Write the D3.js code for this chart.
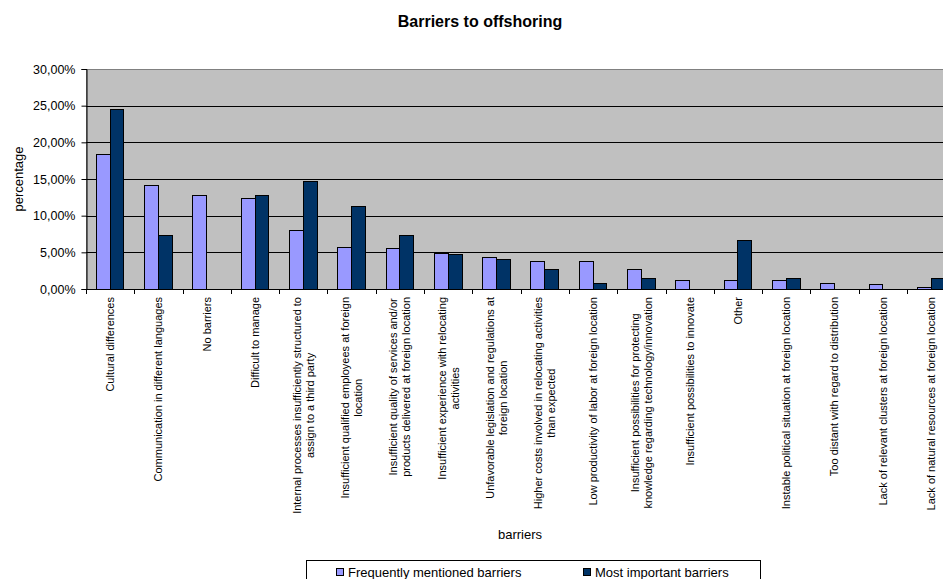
<!DOCTYPE html>
<html>
<head>
<meta charset="utf-8">
<script src="https://cdn.jsdelivr.net/npm/d3@7"></script>
<style>
  html, body { margin: 0; padding: 0; background: #fff; }
  svg { display: block; font-family: "Liberation Sans", Arial, sans-serif; }
</style>
</head>
<body>
<svg id="chart" width="943" height="579"></svg>
<script>
// Survey results: share of respondents naming each barrier
const categories = [
  "Cultural differences",
  "Communication in different languages",
  "No barriers",
  "Difficult to manage",
  "Internal processes insufficiently structured to\nassign to a third party",
  "Insufficient qualified employees at foreign\nlocation",
  "Insufficient quality of services and/or\nproducts delivered at foreign location",
  "Insufficient experience with relocating\nactivities",
  "Unfavorable legislation and regulations at\nforeign location",
  "Higher costs involved in relocating activities\nthan expected",
  "Low productivity of labor at foreign location",
  "Insufficient possibilities for protecting\nknowledge regarding technology/innovation",
  "Insufficient possibilities to innovate",
  "Other",
  "Instable political situation at foreign location",
  "Too distant with regard to distribution",
  "Lack of relevant clusters at foreign location",
  "Lack of natural resources at foreign location"
];
const seriesNames = ["Frequently mentioned barriers", "Most important barriers"];
const frequentlyMentioned = [0.183, 0.141, 0.127, 0.124, 0.080, 0.057, 0.055, 0.048, 0.043, 0.038, 0.037, 0.027, 0.012, 0.012, 0.012, 0.008, 0.006, 0.002];
const mostImportant      = [0.245, 0.073, 0.000, 0.127, 0.146, 0.113, 0.073, 0.047, 0.040, 0.027, 0.007, 0.014, 0.000, 0.066, 0.014, 0.000, 0.000, 0.014];
const yTicks = [0, 0.05, 0.10, 0.15, 0.20, 0.25, 0.30];
const seriesColors = ["#9999FF", "#003366"];

const svg = d3.select("#chart");
const plot = { left: 86, top: 69, bottom: 289, right: 955.3 };

const pct = d3.formatLocale({ decimal: ",", thousands: ".", grouping: [3], currency: ["", "€"], percent: "%" }).format(".2%");

const x = d3.scaleBand().domain(categories).range([plot.left, plot.right]).paddingInner(0).paddingOuter(0);
const x1 = d3.scaleBand().domain(seriesNames).range([0, x.bandwidth()]).paddingInner(0).paddingOuter(0.75);
const y = d3.scaleLinear().domain([0, 0.30]).range([plot.bottom, plot.top]);

// plot area background
svg.append("rect")
  .attr("x", plot.left).attr("y", plot.top)
  .attr("width", plot.right - plot.left).attr("height", plot.bottom - plot.top)
  .attr("fill", "#C0C0C0").attr("stroke", "#808080").attr("stroke-width", 1)
  .attr("shape-rendering", "crispEdges");

// horizontal gridlines
svg.append("g").selectAll("line").data(yTicks.filter(d => d > 0 && d < 0.30)).join("line")
  .attr("x1", plot.left).attr("x2", plot.right)
  .attr("y1", d => Math.round(y(d)) + 0.5).attr("y2", d => Math.round(y(d)) + 0.5)
  .attr("stroke", "#000").attr("stroke-width", 1);

// bars
const rows = categories.map((c, i) => ({ cat: c, values: [frequentlyMentioned[i], mostImportant[i]] }));
const groups = svg.append("g").selectAll("g").data(rows).join("g")
  .attr("transform", d => `translate(${x(d.cat)},0)`);
groups.selectAll("rect").data(d => d.values.map((v, k) => ({ v, k })).filter(e => e.v > 0)).join("rect")
  .attr("x", e => x1(seriesNames[e.k]))
  .attr("width", x1.bandwidth())
  .attr("y", e => y(e.v))
  .attr("height", e => y(0) - y(e.v))
  .attr("fill", e => seriesColors[e.k])
  .attr("stroke", "#000").attr("stroke-width", 1)
  .attr("shape-rendering", "crispEdges");

// y axis
const yAxis = d3.axisLeft(y).tickValues(yTicks).tickFormat(pct).tickSize(5).tickPadding(6);
svg.append("g").attr("transform", `translate(${plot.left + 0.5},0)`).call(yAxis)
  .call(g => g.select(".domain").attr("stroke", "#000"))
  .call(g => g.selectAll("line").attr("stroke", "#000"))
  .call(g => g.selectAll("text").attr("font-size", "12.5px").attr("fill", "#000")
    .attr("font-family", "'Liberation Sans', Arial, sans-serif"));

// x axis line and category boundary ticks
const xa = svg.append("g");
xa.append("line").attr("x1", plot.left).attr("x2", plot.right)
  .attr("y1", plot.bottom + 0.5).attr("y2", plot.bottom + 0.5).attr("stroke", "#000");
const bounds = categories.map(c => x(c)).concat([plot.right]);
xa.selectAll("line.tick").data(bounds).join("line").attr("class", "tick")
  .attr("x1", d => Math.round(d) + 0.5).attr("x2", d => Math.round(d) + 0.5)
  .attr("y1", plot.bottom).attr("y2", plot.bottom + 5).attr("stroke", "#000");

// rotated category labels, top-aligned under the axis, lines centred in their block
const labelGap = 8, lineH = 13;
categories.forEach(c => {
  const lines = c.split("\n");
  const cx = x(c) + x.bandwidth() / 2;
  const g = svg.append("g").attr("transform", `translate(${cx},${plot.bottom}) rotate(-90)`);
  const texts = lines.map((ln, i) => g.append("text")
    .attr("font-size", "11px").attr("fill", "#000").attr("text-anchor", "middle")
    .attr("y", (i - (lines.length - 1) / 2) * lineH).attr("dy", "0.35em").text(ln));
  const w = d3.max(texts, t => t.node().getComputedTextLength());
  texts.forEach(t => t.attr("x", -(labelGap + w / 2)));
});

// titles
svg.append("text").attr("x", 480).attr("y", 27).attr("text-anchor", "middle")
  .attr("font-size", "16px").attr("font-weight", "bold").text("Barriers to offshoring");
svg.append("text").attr("x", 520).attr("y", 539).attr("text-anchor", "middle")
  .attr("font-size", "13px").text("barriers");
svg.append("text").attr("transform", `translate(23,${(plot.top + plot.bottom) / 2}) rotate(-90)`)
  .attr("text-anchor", "middle").attr("font-size", "13px").text("percentage");

// legend
const legend = svg.append("g");
legend.append("rect").attr("x", 306.5).attr("y", 560.5).attr("width", 454).attr("height", 40)
  .attr("fill", "#fff").attr("stroke", "#000").attr("stroke-width", 1);
const legendX = [336, 583];
seriesNames.forEach((s, k) => {
  legend.append("rect").attr("x", legendX[k] + 0.5).attr("y", 568.5).attr("width", 7).attr("height", 7)
    .attr("fill", seriesColors[k]).attr("stroke", "#000").attr("stroke-width", 1);
  legend.append("text").attr("x", legendX[k] + 12).attr("y", 576.5)
    .attr("font-size", "13px").text(s);
});
</script>
</body>
</html>
